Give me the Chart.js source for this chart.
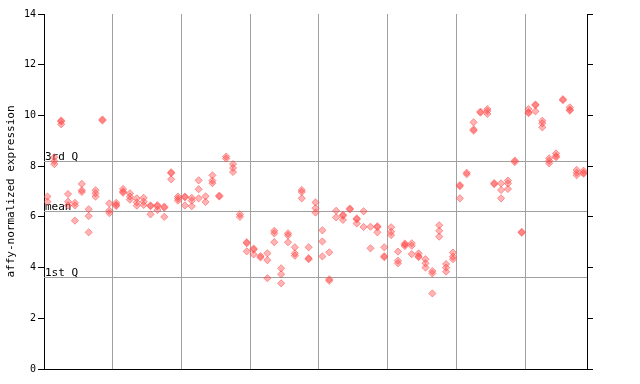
<!DOCTYPE html>
<html>
<head>
<meta charset="utf-8">
<script src="https://cdn.jsdelivr.net/npm/chart.js@4"></script>
<style>
  html, body { margin: 0; padding: 0; background: #fff; }
</style>
</head>
<body>
<canvas id="myChart" width="640" height="384"></canvas>
<script>
// replicate values per sample (79 samples, null = no replicate)
const rep1 = [
  6.8, 8.35, 9.8, 6.9, 6.55, 7.3, 6.3, 7.05, 9.84, 6.53,
  6.55, 7.1, 6.93, 6.73, 6.75, 6.45, 6.46, 6.4, 7.76, 6.8,
  6.8, 6.75, 7.44, 6.81, 7.64, 6.84, 8.38, 8.08, 6.1, 5.0,
  4.75, 4.45, 4.56, 5.45, 3.97, 5.35, 4.8, 7.06, 4.8, 6.57,
  5.47, 4.6, 6.24, 6.08, 6.33, 5.94, 6.22, 5.61, 5.63, 4.8,
  5.59, 4.63, 4.95, 4.96, 4.56, 4.33, 3.86, 5.67, 4.14, 4.59,
  7.25, 7.74, 9.73, 10.15, 10.25, 7.33, 7.32, 7.43, 8.22, 5.41,
  10.25, 10.43, 9.79, 8.31, 8.5, 10.64, 10.32, 7.85, 7.82
];
const rep2 = [
  6.6, 8.2, 9.76, 6.6, 6.45, 7.05, 6.03, 6.93, 9.8, 6.25,
  6.47, 7.0, 6.8, 6.57, 6.6, 6.42, 6.42, 6.36, 7.72, 6.72,
  6.77, 6.64, 7.09, 6.59, 7.43, 6.8, 8.3, 7.93, 6.0, 4.96,
  4.71, 4.4, 4.29, 5.35, 3.74, 5.27, 4.56, 6.98, 4.37, 6.34,
  5.03, 3.54, 5.98, 6.04, 6.29, 5.9, 5.6, 4.76, 5.59, 4.45,
  5.41, 4.27, 4.9, 4.86, 4.45, 4.17, 3.77, 5.45, 4.0, 4.43,
  7.21, 7.68, 9.45, 10.11, 10.17, 7.29, 7.06, 7.32, 8.16, 5.37,
  10.13, 10.4, 9.69, 8.21, 8.4, 10.6, 10.23, 7.74, 7.74
];
const rep3 = [
  null, 8.08, 9.65, 6.45, 5.85, 6.98, 5.39, 6.8, null, 6.15,
  6.43, 6.95, 6.68, 6.44, 6.47, 6.1, 6.27, 6.0, 7.48, 6.64,
  6.45, 6.42, 6.73, null, 7.33, null, null, 7.77, null, 4.64,
  4.52, null, 3.58, 5.0, 3.38, 5.0, 4.47, 6.73, 4.33, 6.17,
  4.44, 3.48, null, 5.88, null, 5.74, null, null, 5.39, 4.41,
  5.28, 4.17, 4.85, 4.53, 4.41, 4.0, 2.98, 5.22, 3.84, 4.33,
  6.73, null, 9.4, null, 10.06, null, 6.73, 7.1, null, null,
  10.09, 10.16, 9.53, 8.11, 8.35, null, 10.19, 7.64, 7.7
];

const refLabels = ['3rd Q', 'mean', '1st Q'];
const refValues = [8.22, 6.22, 3.62];

const yTicks = [0, 2, 4, 6, 8, 10, 12, 14];

const red = 'rgba(255, 70, 70, 0.4)';
const redEdge = 'rgba(255, 70, 70, 0.65)';

function toPoints(arr) {
  const pts = [];
  arr.forEach((v, i) => {
    if (v !== null) pts.push({ x: i + 0.5, y: v });
  });
  return pts;
}

const refLines = {
  id: 'refLines',
  beforeDatasetsDraw(chart) {
    const ctx = chart.ctx;
    const area = chart.chartArea;
    const y = chart.scales.y;
    ctx.save();
    ctx.font = '11px "DejaVu Sans Mono"';
    ctx.textBaseline = 'bottom';
    ctx.textAlign = 'left';
    refValues.forEach((v, i) => {
      const py = Math.round(y.getPixelForValue(v)) + 0.5;
      ctx.strokeStyle = '#a0a0a0';
      ctx.lineWidth = 1;
      ctx.beginPath();
      ctx.moveTo(area.left, py);
      ctx.lineTo(area.right, py);
      ctx.stroke();
      ctx.fillStyle = '#000';
      ctx.fillText(refLabels[i], area.left + 1, py + 1);
    });
    ctx.restore();
  }
};

const ds = [rep1, rep2, rep3].map((r, k) => ({
  label: 'rep' + (k + 1),
  data: toPoints(r),
  pointStyle: 'rectRot',
  pointRadius: 3.6,
  pointBackgroundColor: red,
  pointBorderColor: redEdge,
  pointBorderWidth: 0.8
}));

const ctx = document.getElementById('myChart').getContext('2d');
const myChart = new Chart(ctx, {
  type: 'scatter',
  data: { datasets: ds },
  plugins: [refLines],
  options: {
    responsive: false,
    animation: false,
    layout: { padding: { left: 0, right: 0, top: 14, bottom: 15 } },
    plugins: { legend: { display: false }, tooltip: { enabled: false } },
    scales: {
      x: {
        type: 'linear',
        min: 0,
        max: 79,
        ticks: { display: false, stepSize: 10 },
        grid: { color: '#a0a0a0', drawTicks: false },
        border: { color: '#000' },
        afterFit(scale) { scale.height = 0; }
      },
      y: {
        min: 0,
        max: 14,
        afterBuildTicks(scale) { scale.ticks = yTicks.map(v => ({ value: v })); },
        ticks: {
          color: '#000',
          padding: 2,
          font: { family: 'DejaVu Sans Mono', size: 10 }
        },
        grid: { drawOnChartArea: false, tickLength: 6, color: '#000' },
        border: { color: '#000' },
        title: {
          display: true,
          text: 'affy-normalized expression',
          color: '#000',
          padding: { top: 5, bottom: 0 },
          font: { family: 'DejaVu Sans Mono', size: 11 }
        },
        afterFit(scale) { scale.width = 44; }
      },
      y2: {
        position: 'right',
        min: 0,
        max: 14,
        afterBuildTicks(scale) { scale.ticks = yTicks.map(v => ({ value: v })); },
        ticks: { display: false },
        grid: { drawOnChartArea: false, tickLength: 6, color: '#000' },
        border: { color: '#000' },
        afterFit(scale) { scale.width = 53; }
      }
    }
  }
});
</script>
</body>
</html>
